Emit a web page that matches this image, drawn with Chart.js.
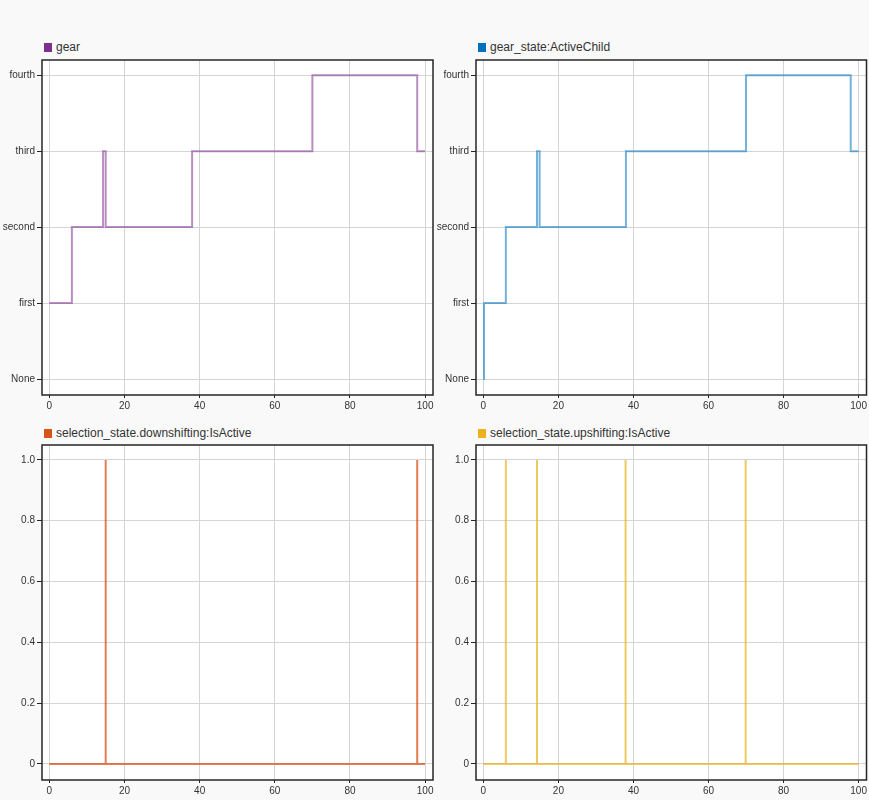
<!DOCTYPE html>
<html>
<head>
<meta charset="utf-8">
<script src="https://cdn.jsdelivr.net/npm/chart.js@4/dist/chart.umd.min.js"></script>
<style>
  html, body { margin: 0; padding: 0; background: #f9f9f9; overflow: hidden; width: 869px; height: 800px; }
  .cv { position: absolute; }
  .leg { position: absolute; font-family: "Liberation Sans", Arial, sans-serif; font-size: 12px; color: #333; white-space: nowrap; line-height: 14px; }
  .leg span.box { display: inline-block; width: 8px; height: 9px; margin-right: 4px; vertical-align: -1px; }
</style>
</head>
<body>
<div class="leg" style="left:44px; top:40px;"><span class="box" style="background:#7E2F8E"></span>gear</div>
<div class="leg" style="left:478px; top:40px;"><span class="box" style="background:#0072BD"></span>gear_state:ActiveChild</div>
<div class="leg" style="left:44px; top:426px;"><span class="box" style="background:#D95319"></span>selection_state.downshifting:IsActive</div>
<div class="leg" style="left:478px; top:426px;"><span class="box" style="background:#EDB120"></span>selection_state.upshifting:IsActive</div>

<canvas id="c1" class="cv" width="436" height="363" style="left:0px; top:52px;"></canvas>
<canvas id="c2" class="cv" width="435" height="363" style="left:434px; top:52px;"></canvas>
<canvas id="c3" class="cv" width="436" height="363" style="left:0px; top:437px;"></canvas>
<canvas id="c4" class="cv" width="435" height="363" style="left:434px; top:437px;"></canvas>

<script>
// ---- data ----
const xTickValues = [0, 20, 40, 60, 80, 100];
const stateLabels = ['None', 'first', 'second', 'third', 'fourth'];
const gearTimes = [0, 6, 14.3, 15, 38, 70, 97.9, 100];
const gearValues = [1, 2, 3, 2, 3, 4, 3, 3];
const activeChildTimes = [0, 0.2, 6, 14.3, 15, 38, 70, 97.9, 100];
const activeChildValues = [0, 1, 2, 3, 2, 3, 4, 3, 3];
const downshiftTimes = [15, 97.9];
const upshiftTimes = [6, 14.3, 37.9, 69.9];
const isActiveTicks = [0, 0.2, 0.4, 0.6, 0.8, 1.0];
const timeStart = 0, timeEnd = 100;

// ---- helpers ----
function pairs(xs, ys) { return xs.map((x, i) => ({ x: x, y: ys[i] })); }
function spikes(times) {
  const pts = [{ x: timeStart, y: 0 }];
  times.forEach(t => { pts.push({ x: t, y: 0 }, { x: t, y: 1 }, { x: t, y: 0 }); });
  pts.push({ x: timeEnd, y: 0 });
  return pts;
}

const tickFont = { family: '"Liberation Sans", Arial, sans-serif', size: 10 };
const boxPlugin = {
  id: 'box',
  afterDraw(chart) {
    const a = chart.chartArea, ctx = chart.ctx;
    ctx.save();
    ctx.strokeStyle = '#262626';
    ctx.lineWidth = 1.5;
    ctx.strokeRect(a.left, a.top, a.right - a.left, a.bottom - a.top);
    ctx.restore();
  }
};
const bgPlugin = {
  id: 'bg',
  beforeDraw(chart) {
    const a = chart.chartArea, ctx = chart.ctx;
    ctx.save();
    ctx.fillStyle = '#ffffff';
    ctx.fillRect(a.left, a.top, a.right - a.left, a.bottom - a.top);
    ctx.restore();
  }
};

function makeChart(id, data, color, padRight, yCfg) {
  return new Chart(document.getElementById(id), {
    type: 'line',
    data: { datasets: [{ data: data, borderColor: color, borderWidth: 2, pointRadius: 0, fill: false, stepped: yCfg.stepped, tension: 0 }] },
    options: {
      responsive: false, animation: false,
      layout: { padding: { top: 2, right: padRight, left: 0, bottom: 0 }, autoPadding: false },
      plugins: { legend: { display: false }, tooltip: { enabled: false } },
      scales: {
        x: {
          type: 'linear', min: -1.95, max: 102.1,
          afterBuildTicks: s => { s.ticks = xTickValues.map(v => ({ value: v })); },
          afterFit: s => { s.height = 20; },
          grid: { color: '#d4d4d4', lineWidth: 1, tickLength: 3, tickColor: '#262626' },
          border: { display: false },
          ticks: { font: tickFont, color: '#333', padding: 2, maxRotation: 0, autoSkip: false }
        },
        y: {
          type: 'linear', min: yCfg.min, max: yCfg.max,
          afterBuildTicks: s => { s.ticks = yCfg.ticks.map(v => ({ value: v })); },
          afterFit: s => { s.width = 42; },
          grid: { color: '#d4d4d4', lineWidth: 1, tickLength: 5, tickColor: '#262626' },
          border: { display: false },
          ticks: { font: tickFont, color: '#333', padding: 2, autoSkip: false, callback: yCfg.fmt }
        }
      }
    },
    plugins: [bgPlugin, boxPlugin]
  });
}

const stateCfg = {
  min: -0.21, max: 4.2, stepped: true,
  ticks: stateLabels.map((_, i) => i),
  fmt: v => stateLabels[Math.round(v)]
};
const activeCfg = {
  min: -0.053, max: 1.049, stepped: false,
  ticks: isActiveTicks,
  fmt: v => (Math.abs(v) < 1e-9 ? '0' : v.toFixed(1))
};

makeChart('c1', pairs(gearTimes, gearValues), 'rgba(126,47,142,0.55)', 3, stateCfg);
makeChart('c2', pairs(activeChildTimes, activeChildValues), 'rgba(0,114,189,0.55)', 2, stateCfg);
makeChart('c3', spikes(downshiftTimes), 'rgba(217,83,25,0.75)', 3, activeCfg);
makeChart('c4', spikes(upshiftTimes), 'rgba(237,177,32,0.7)', 2, activeCfg);
</script>
</body>
</html>
